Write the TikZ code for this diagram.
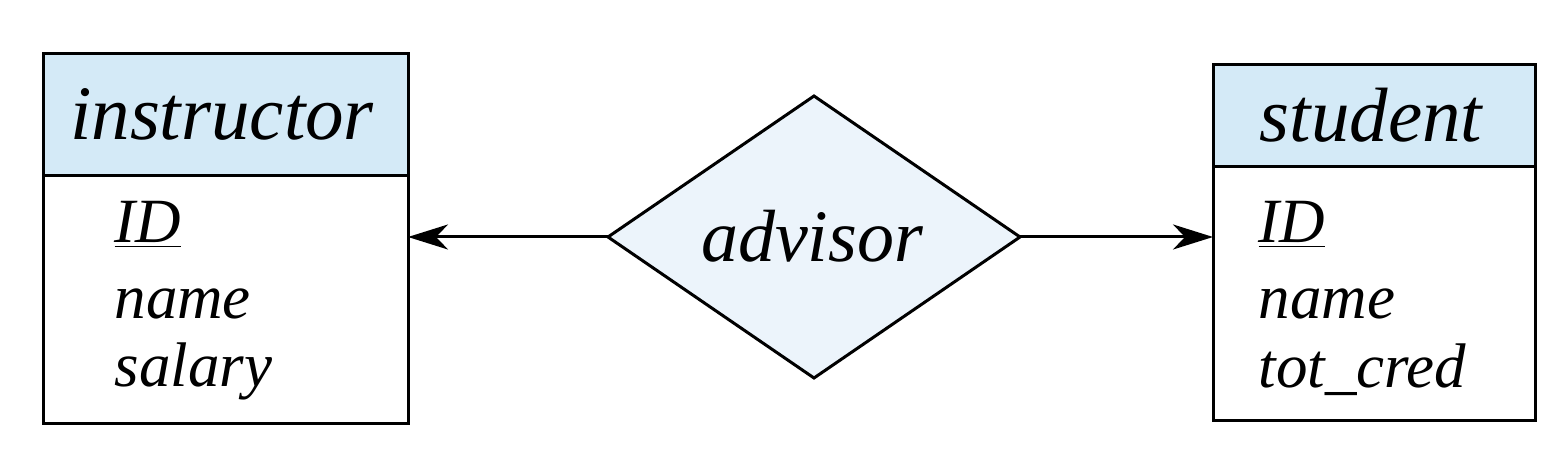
\documentclass[tikz,border=0pt]{standalone}
\usepackage{fontspec}
\setmainfont{Liberation Serif}
\usetikzlibrary{arrows.meta,shapes.geometric}
\definecolor{headblue}{RGB}{212,234,247}
\definecolor{diafill}{RGB}{236,244,251}
\begin{document}
\begin{tikzpicture}[x=0.5pt,y=-0.5pt,
  line width=1.5pt,
  ent/.style={draw=black,rectangle,inner sep=0pt,outer sep=0pt},
  hdr/.style={ent,fill=headblue},
  bdy/.style={ent,fill=white},
  rel/.style={draw=black,shape=diamond,fill=diafill,inner sep=0pt,outer sep=0pt,minimum width=206pt,minimum height=141pt},
  htext/.style={anchor=base,inner sep=0pt,font=\fontsize{38.5}{46}\selectfont\itshape},
  reltext/.style={anchor=base,inner sep=0pt,font=\fontsize{37}{44}\selectfont\itshape},
  atext/.style={anchor=base west,inner sep=0pt,font=\fontsize{31.5}{38}\selectfont\itshape},
  arr/.style={-{Stealth[length=20pt,width=12.5pt,inset=6pt]},line width=1.5pt}
]
\useasboundingbox (0,0) rectangle (1558,464);
% instructor
\node[hdr,minimum width=182.5pt,minimum height=61pt] (ihead) at (225.5,115) {};
\node[bdy,minimum width=182.5pt,minimum height=124pt] (ibody) at (225.5,300) {};
\node[htext] (itext) at (222,140) {instructor};
\node[atext] (iid) at (113,243) {\underline{ID}};
\node[atext] (iname) at (113,319) {name};
\node[atext] (isal) at (113,387) {salary};
% student
\node[hdr,minimum width=161pt,minimum height=51pt] (shead) at (1374,116) {};
\node[bdy,minimum width=161pt,minimum height=127pt] (sbody) at (1374,294) {};
\node[htext] (stext) at (1371,142) {student};
\node[atext] (sid) at (1257,243) {\underline{ID}};
\node[atext] (sname) at (1257,319) {name};
\node[atext] (scred) at (1257,388) {tot\_cred};
% relationship
\node[rel] (adv) at (814,237) {};
\node[reltext] (advtext) at (812,262) {advisor};
% connectors
\draw[arr] (adv.west) -- (adv.west -| ibody.east);
\draw[arr] (adv.east) -- (adv.east -| sbody.west);
\end{tikzpicture}
\end{document}
